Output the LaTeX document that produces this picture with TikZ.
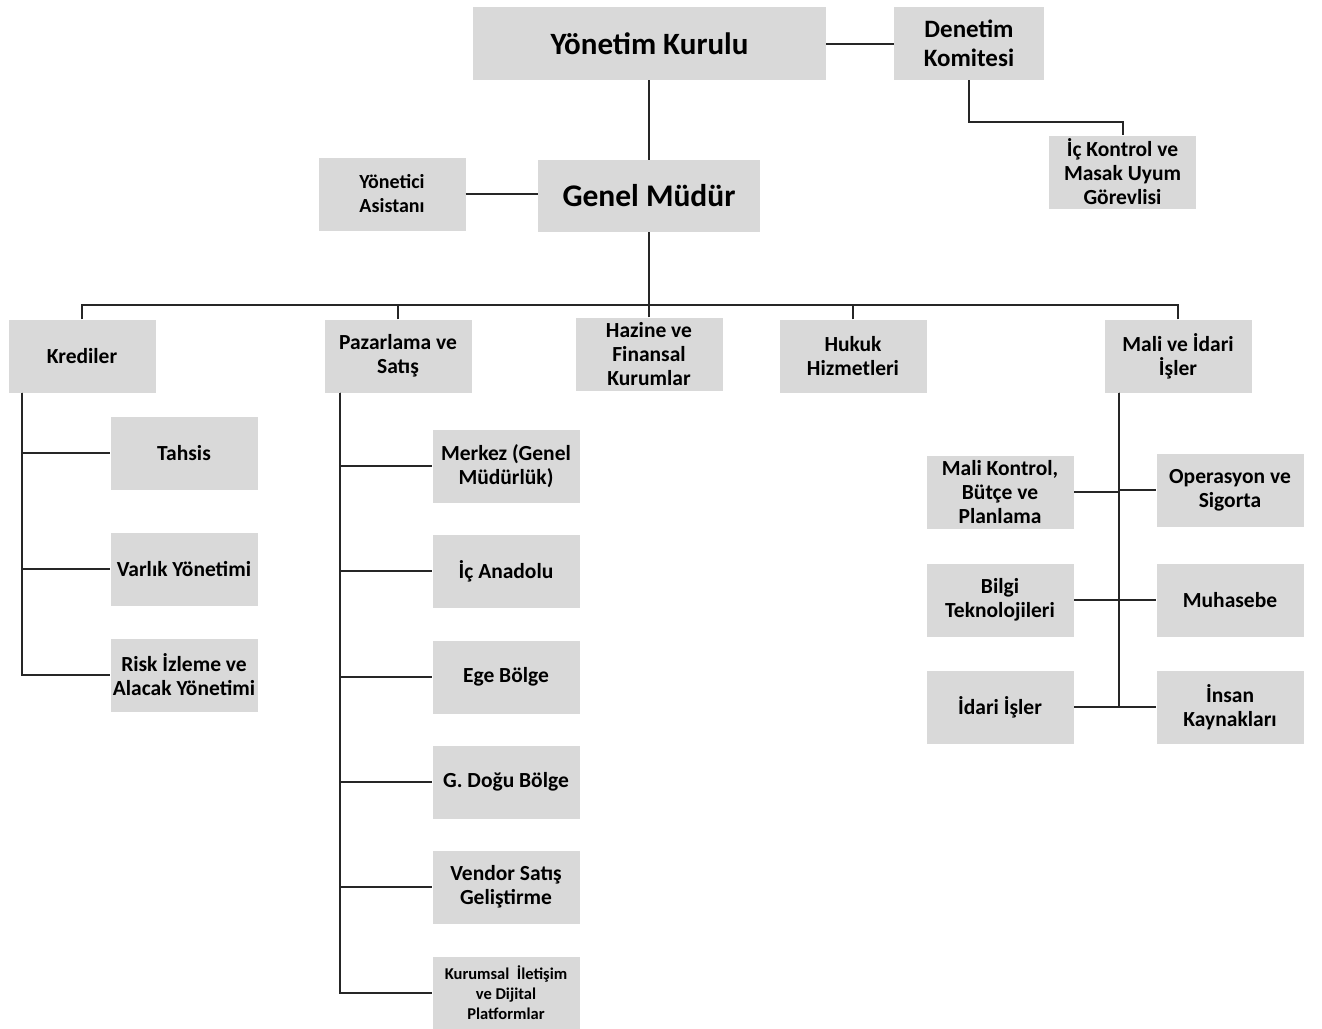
\documentclass[tikz,border=0pt]{standalone}
\usepackage{fontspec}
\setmainfont{Carlito}
\usetikzlibrary{positioning}
\definecolor{boxgray}{HTML}{D9D9D9}

\tikzset{
  unit/.style={fill=boxgray, minimum width=147pt, minimum height=73pt, inner sep=1pt,
    align=center, font=\fontsize{21.5}{24}\selectfont\bfseries},
  link/.style={draw=black!85, line width=2pt}
}

\begin{document}
\begin{tikzpicture}[x=1pt, y=1pt]
\useasboundingbox (0,0) rectangle (1322,-1028);

% top levels
\node[unit, minimum width=353pt, font=\fontsize{31}{34}\selectfont\bfseries] (yk) at (649.5,-43.5) {Yönetim Kurulu};
\node[unit, minimum width=150pt, font=\fontsize{25}{29}\selectfont\bfseries] (den) at (969,-43.5) {Denetim\\Komitesi};
\node[unit] (ick) at (1122.5,-172) {İç Kontrol ve\\Masak Uyum\\Görevlisi};
\node[unit, minimum width=222pt, minimum height=72pt, font=\fontsize{31.5}{34}\selectfont\bfseries] (gm) at (649,-196) {Genel Müdür};
\node[unit, font=\fontsize{20}{24}\selectfont\bfseries] (asist) at (392,-194) {Yönetici\\Asistanı};

\draw[link] (yk.east) -- (den.west);
\draw[link] (den.south) -- ++(0,-42) -| (ick.north);
\draw[link] (gm.north |- yk.south) -- (gm.north);
\draw[link] (asist.east) -- (asist.east -| gm.west);

% departments
\node[unit] (kred) at (82,-356) {Krediler};
\node[unit] (paz) at (398,-356) {Pazarlama ve\\Satış};
\node[unit] (haz) at (649,-354) {Hazine ve\\Finansal\\Kurumlar};
\node[unit] (huk) at (853,-356) {Hukuk\\Hizmetleri};
\node[unit] (mali) at (1178,-356) {Mali ve İdari\\İşler};

\coordinate (bus) at (649,-305);
\draw[link] (gm.south) -- (bus);
\foreach \d in {kred, paz, haz, huk, mali}
  \draw[link] (\d.north) |- (bus);

% Krediler
\foreach \y/\nm/\txt in {453/tahsis/Tahsis, 569/varlik/Varlık Yönetimi, 675/risk/{Risk İzleme ve\\Alacak Yönetimi}} {
  \node[unit] (\nm) at (184,-\y) {\txt};
  \draw[link] ([xshift=14pt]kred.south west) |- (\nm.west);
}

% Pazarlama ve Satis
\foreach \y/\nm/\txt in {466/merkez/{Merkez (Genel\\Müdürlük)}, 571/icana/İç Anadolu, 677/ege/Ege Bölge,
    782/gdogu/G. Doğu Bölge, 887/vendor/{Vendor Satış\\Geliştirme}} {
  \node[unit] (\nm) at (506,-\y) {\txt};
  \draw[link] ([xshift=16pt]paz.south west) |- (\nm.west);
}
\node[unit, font=\fontsize{16.5}{20}\selectfont\bfseries] (kurum) at (506,-993) {Kurumsal~ İletişim\\ve Dijital\\Platformlar};
\draw[link] ([xshift=16pt]paz.south west) |- (kurum.west);

% Mali ve Idari Isler
\foreach \y/\nm/\txt in {492/malik/{Mali Kontrol,\\Bütçe ve\\Planlama}, 600/bilgi/{Bilgi\\Teknolojileri}, 707/idari/İdari İşler} {
  \node[unit] (\nm) at (1000,-\y) {\txt};
  \draw[link] ([xshift=15pt]mali.south west) |- (\nm.east);
}
\foreach \y/\nm/\txt in {490/oper/{Operasyon ve\\Sigorta}, 600/muh/Muhasebe, 707/insan/{İnsan\\Kaynakları}} {
  \node[unit] (\nm) at (1230,-\y) {\txt};
  \draw[link] ([xshift=15pt]mali.south west) |- (\nm.west);
}
\end{tikzpicture}
\end{document}
